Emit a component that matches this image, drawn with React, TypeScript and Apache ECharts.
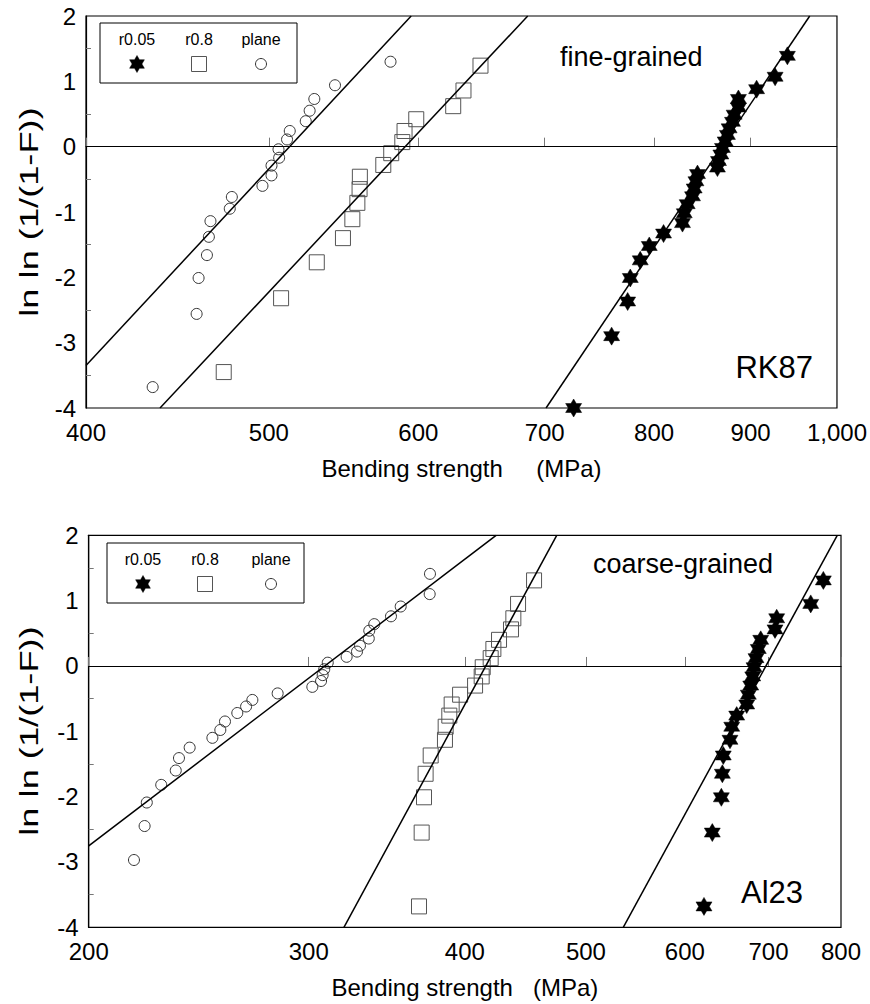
import React, { useEffect, useRef } from "react";
import * as echarts from "echarts";

const FONT = '"Liberation Sans", Arial, Helvetica, sans-serif';

// ---------- Top panel (RK87, fine-grained) ----------
const topTicks = [400, 500, 600, 700, 800, 900, 1000];
const topStarMPa = [725.2, 759.6, 774.6, 777.1, 786.6, 795.3, 809.3, 828.2, 830.0, 833.0, 838.4, 840.1, 841.9, 843.5, 864.3, 865.4, 867.9, 869.6, 872.5, 874.9, 876.7, 880.3, 882.1, 886.7, 886.7, 906.6, 927.3, 941.3];
const topStarY = [-4.0, -2.90, -2.37, -2.01, -1.74, -1.52, -1.33, -1.17, -1.02, -0.88, -0.76, -0.64, -0.53, -0.42, -0.32, -0.22, -0.12, -0.02, 0.08, 0.18, 0.28, 0.38, 0.49, 0.60, 0.73, 0.88, 1.07, 1.39];
const topSquareMPa = [473.2, 507.5, 530.1, 547.3, 553.6, 557.0, 558.5, 558.7, 574.9, 580.5, 588.4, 590.0, 598.5, 626.1, 634.0, 647.3];
const topSquareY = [-3.45, -2.32, -1.77, -1.40, -1.11, -0.86, -0.65, -0.46, -0.28, -0.10, 0.07, 0.24, 0.42, 0.62, 0.86, 1.24];
const topCircleMPa = [433.9, 457.8, 458.9, 463.6, 464.7, 465.6, 476.7, 477.9, 496.1, 501.6, 501.6, 506.3, 505.9, 511.2, 512.9, 523.0, 525.5, 528.5, 542.0, 580.0];
const topCircleY = [-3.68, -2.56, -2.01, -1.66, -1.38, -1.14, -0.95, -0.77, -0.60, -0.44, -0.29, -0.17, -0.04, 0.11, 0.24, 0.39, 0.55, 0.73, 0.94, 1.30];
const topStarFit = [[701.2, -4], [967.3, 2]];
const topSquareFit = [[437.8, -4], [685.7, 2]];
const topCircleFit = [[400, -3.35], [594.8, 2]];

// ---------- Bottom panel (Al23, coarse-grained) ----------
const botTicks = [200, 300, 400, 500, 600, 700, 800];
const botStarMPa = [621.5, 631.1, 641.7, 642.9, 644.0, 652.0, 654.1, 660.1, 672.4, 674.4, 677.4, 679.9, 681.5, 684.0, 686.9, 690.0, 708.4, 710.6, 756.6, 774.4];
const botStarY = [-3.68, -2.55, -2.01, -1.65, -1.37, -1.13, -0.93, -0.76, -0.59, -0.44, -0.30, -0.16, -0.02, 0.12, 0.26, 0.40, 0.56, 0.73, 0.95, 1.31];
const botSquareMPa = [367.6, 369.4, 371.0, 372.1, 375.6, 385.6, 386.1, 388.7, 390.4, 396.5, 407.6, 412.6, 413.4, 419.5, 421.6, 426.0, 435.5, 437.4, 441.2, 454.4];
const botSquareY = [-3.68, -2.55, -2.01, -1.65, -1.37, -1.13, -0.93, -0.76, -0.59, -0.44, -0.30, -0.16, -0.02, 0.12, 0.26, 0.40, 0.56, 0.73, 0.95, 1.31];
const botCircleMPa = [217.4, 221.7, 222.6, 228.6, 234.8, 236.2, 240.9, 251.2, 254.9, 257.1, 263.0, 267.3, 270.4, 283.3, 302.0, 306.9, 307.8, 308.7, 310.7, 321.7, 327.9, 329.7, 335.1, 335.4, 338.5, 349.1, 355.4, 374.9, 375.1];
const botCircleY = [-2.97, -2.45, -2.09, -1.82, -1.60, -1.41, -1.25, -1.10, -0.98, -0.85, -0.72, -0.62, -0.52, -0.42, -0.32, -0.23, -0.14, -0.05, 0.05, 0.14, 0.22, 0.31, 0.42, 0.54, 0.64, 0.76, 0.91, 1.10, 1.41];
const botStarFit = [[535.6, -4], [794.5, 2]];
const botSquareFit = [[320.1, -4], [473.8, 2]];
const botCircleFit = [[200, -2.755], [423.7, 2]];

const legendNames = ["r0.05", "r0.8", "plane"];

const STAR_PATH =
  "path://M50 0 L64.43 25 L93.3 25 L78.87 50 L93.3 75 L64.43 75 L50 100 L35.57 75 L6.7 75 L21.13 50 L6.7 25 L35.57 25 Z";

function starPoints(cx: number, cy: number, R: number) {
  const r = R / Math.sqrt(3);
  const pts: number[][] = [];
  for (let k = 0; k < 12; k++) {
    const a = -Math.PI / 2 + (k * Math.PI) / 6;
    const rr = k % 2 === 0 ? R : r;
    pts.push([cx + rr * Math.cos(a), cy + rr * Math.sin(a)]);
  }
  return pts;
}

const toPts = (xs: number[], ys: number[]) => xs.map((x, i) => [Math.log(x), ys[i]]);
const fitPts = (f: number[][]) => f.map((p) => [Math.log(p[0]), p[1]]);
const fmtNum = (v: number) => {
  const n = Math.round(Math.exp(v));
  return n >= 1000 ? n.toLocaleString("en-US") : String(n);
};

function panelSeries(idx: number, stars: number[][], squares: number[][], circles: number[][], fits: number[][][]) {
  const base = { xAxisIndex: idx, yAxisIndex: idx };
  const lineSeries = fits.map((f) => ({
    ...base,
    type: "line",
    data: fitPts(f),
    showSymbol: false,
    symbol: "none",
    clip: true,
    lineStyle: { color: "#000", width: 1.5 },
    z: 3,
  }));
  return [
    {
      ...base,
      type: "scatter",
      name: legendNames[2],
      data: circles,
      symbol: "circle",
      symbolSize: 11,
      clip: false,
      itemStyle: { color: "rgba(0,0,0,0)", borderColor: "#333", borderWidth: 1, opacity: 1 },
      markLine: {
        silent: true,
        symbol: ["none", "none"],
        label: { show: false },
        lineStyle: { color: "#000", width: 1.2, type: "solid" },
        data: [{ yAxis: 0 }],
      },
      z: 2,
    },
    {
      ...base,
      type: "scatter",
      name: legendNames[1],
      data: squares,
      symbol: "rect",
      symbolSize: 15,
      clip: false,
      itemStyle: { color: "rgba(0,0,0,0)", borderColor: "#555", borderWidth: 1, opacity: 1 },
      z: 2,
    },
    {
      ...base,
      type: "scatter",
      name: legendNames[0],
      data: stars,
      symbol: STAR_PATH,
      symbolSize: [16, 18],
      clip: false,
      itemStyle: { color: "#000", borderColor: "#000", borderWidth: 0.5, opacity: 1 },
      z: 2,
    },
    ...lineSeries,
  ];
}

function xAxisOf(idx: number, ticks: number[], name: string) {
  const lv = ticks.map((t) => Math.log(t));
  return {
    type: "value",
    gridIndex: idx,
    min: Math.log(ticks[0]),
    max: Math.log(ticks[ticks.length - 1]),
    splitLine: { show: false },
    axisLine: { show: true, lineStyle: { color: "#000", width: 1.2 } },
    axisTick: { show: true, inside: true, length: 9, customValues: lv, lineStyle: { color: "#777", width: 1 } },
    axisLabel: {
      customValues: lv,
      formatter: fmtNum,
      fontSize: 24,
      color: "#000",
      margin: 12,
      fontFamily: FONT,
    },
    name,
    nameLocation: "middle",
    nameGap: 48,
    nameTextStyle: { fontSize: 24, color: "#000", fontFamily: FONT },
  };
}

function yAxisOf(idx: number) {
  return {
    type: "value",
    gridIndex: idx,
    min: -4,
    max: 2,
    interval: 1,
    splitLine: { show: false },
    axisLine: { show: true, lineStyle: { color: "#000", width: 1.2 } },
    axisTick: { show: false, inside: true },
    minorTick: { show: true, splitNumber: 2, length: 5, lineStyle: { color: "#777", width: 1 } },
    axisLabel: { fontSize: 24, color: "#000", margin: 10, fontFamily: FONT },
  };
}

function legendGraphic(left: number, top: number, w: number, h: number, cols: number[]) {
  const textY = top + 16;
  const symY = top + 41;
  const els: any[] = [
    {
      type: "rect",
      shape: { x: left, y: top, width: w, height: h },
      style: { fill: "#fff", stroke: "#000", lineWidth: 1 },
      z: 10,
    },
  ];
  legendNames.forEach((n, i) => {
    els.push({
      type: "text",
      x: cols[i],
      y: textY,
      z: 11,
      style: { text: n, fontSize: 16, fontFamily: FONT, fill: "#000", align: "center", verticalAlign: "middle" },
    });
  });
  els.push({ type: "polygon", z: 11, shape: { points: starPoints(cols[0], symY, 8.5) }, style: { fill: "#000", stroke: "#000", lineWidth: 0.5 } });
  els.push({ type: "rect", z: 11, shape: { x: cols[1] - 7.5, y: symY - 7.5, width: 15, height: 15 }, style: { fill: "none", stroke: "#555", lineWidth: 1 } });
  els.push({ type: "circle", z: 11, shape: { cx: cols[2], cy: symY, r: 5.5 }, style: { fill: "none", stroke: "#333", lineWidth: 1 } });
  return els;
}

function textEl(text: string, x: number, y: number, size: number, align: string) {
  return {
    type: "text",
    x,
    y,
    z: 12,
    style: { text, fontSize: size, fontFamily: FONT, fill: "#000", align, verticalAlign: "middle" },
  };
}

function yTitle(cy: number) {
  return {
    type: "text",
    x: 30,
    y: cy,
    rotation: Math.PI / 2,
    scaleX: 1.45,
    z: 12,
    style: { text: "ln ln (1/(1-F))", fontSize: 25, fontFamily: FONT, fill: "#000", align: "center", verticalAlign: "middle" },
  };
}

export default function App() {
  const ref = useRef<HTMLDivElement>(null);
  useEffect(() => {
    if (!ref.current) return;
    const chart = echarts.init(ref.current, undefined, { renderer: "svg" });
    const option: any = {
      animation: false,
      backgroundColor: "#fff",
      textStyle: { fontFamily: FONT },
      grid: [
        { left: 86, top: 16, width: 752, height: 392, show: true, borderColor: "#000", borderWidth: 1.2, backgroundColor: "rgba(0,0,0,0)" },
        { left: 88.7, top: 535.3, width: 752.3, height: 392, show: true, borderColor: "#000", borderWidth: 1.2, backgroundColor: "rgba(0,0,0,0)" },
      ],
      xAxis: [
        xAxisOf(0, topTicks, "Bending strength     (MPa)"),
        xAxisOf(1, botTicks, "Bending strength   (MPa)"),
      ],
      yAxis: [yAxisOf(0), yAxisOf(1)],
      series: [
        ...panelSeries(0, toPts(topStarMPa, topStarY), toPts(topSquareMPa, topSquareY), toPts(topCircleMPa, topCircleY), [topStarFit, topSquareFit, topCircleFit]),
        ...panelSeries(1, toPts(botStarMPa, botStarY), toPts(botSquareMPa, botSquareY), toPts(botCircleMPa, botCircleY), [botStarFit, botSquareFit, botCircleFit]),
      ],
      graphic: [
        ...legendGraphic(100, 23, 197, 60, [137, 199, 261]),
        ...legendGraphic(107, 543, 197, 60, [143, 205, 271]),
        textEl("fine-grained", 560, 57, 27, "left"),
        textEl("RK87", 813, 367, 31, "right"),
        textEl("coarse-grained", 593, 564, 27, "left"),
        textEl("Al23", 803, 892, 31, "right"),
        yTitle(212),
        yTitle(731),
      ],
    };
    chart.setOption(option);
    return () => chart.dispose();
  }, []);
  return (
    <div
      ref={ref}
      style={{ position: "fixed", left: 0, top: 0, width: 870, height: 1004, background: "#fff" }}
    />
  );
}
